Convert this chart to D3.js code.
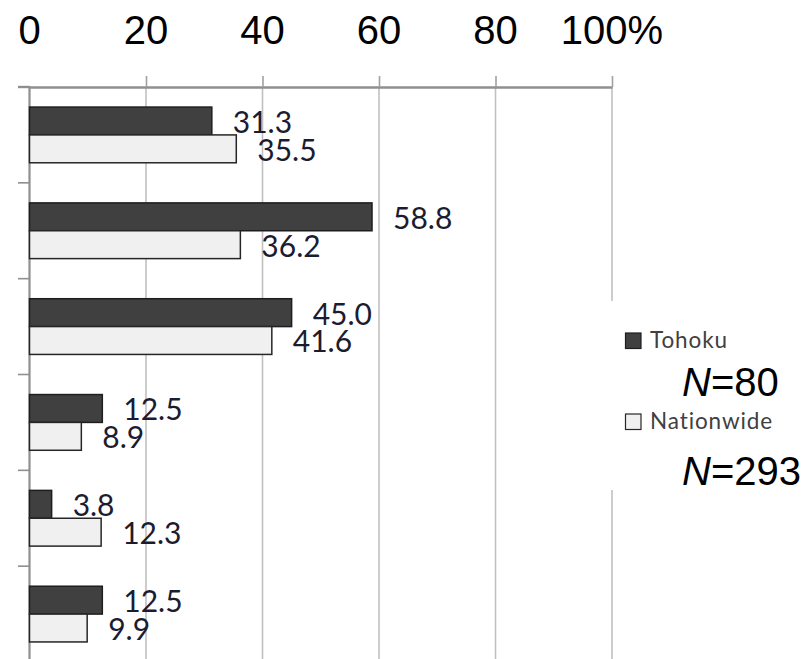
<!DOCTYPE html>
<html>
<head>
<meta charset="utf-8">
<script src="https://cdn.jsdelivr.net/npm/d3@7"></script>
<style>
  html, body { margin: 0; padding: 0; background: #ffffff; }
  svg { display: block; }
</style>
</head>
<body>
<svg id="chart" width="809" height="659"></svg>
<script>
// Response categories (top to bottom) and the two survey groups
const categories = ["Item 1", "Item 2", "Item 3", "Item 4", "Item 5", "Item 6"];
const seriesNames = ["Tohoku", "Nationwide"];
const tohokuValues = [31.3, 58.8, 45.0, 12.5, 3.8, 12.5];
const nationwideValues = [35.5, 36.2, 41.6, 8.9, 12.3, 9.9];
const sampleSizes = [80, 293];
const xTickValues = [0, 20, 40, 60, 80, 100];
const xTickLabels = ["0", "20", "40", "60", "80", "100%"];

const colors = { Tohoku: "#404040", Nationwide: "#f0f0f0" };
const strokes = { Tohoku: "#1e1e1e", Nationwide: "#262626" };

const rows = categories.map((c, i) => ({
  category: c,
  values: [
    { series: "Tohoku", value: tohokuValues[i] },
    { series: "Nationwide", value: nationwideValues[i] }
  ]
}));

const svg = d3.select("#chart");

const x = d3.scaleLinear().domain([0, 100]).range([29.5, 612]);
const y0 = d3.scaleBand().domain(categories).range([87, 662]).padding(0);
const y1 = d3.scaleBand().domain(seriesNames).range([0, y0.bandwidth()])
  .paddingInner(0).paddingOuter(0.72);

// Vertical gridlines
svg.append("g")
  .selectAll("line")
  .data(xTickValues.filter(v => v > 0))
  .join("line")
  .attr("x1", d => x(d)).attr("x2", d => x(d))
  .attr("y1", 87).attr("y2", 659)
  .attr("stroke", "#c0c0c0")
  .attr("stroke-width", 1.6);

// Top value axis with short outward ticks
const xAxis = svg.append("g")
  .attr("transform", "translate(0,87)")
  .call(d3.axisTop(x).tickValues(xTickValues.filter(v => v > 0))
    .tickSize(11).tickSizeOuter(0).tickFormat(""));
xAxis.select(".domain").attr("stroke", "#8f8f8f").attr("stroke-width", 2.4);
xAxis.selectAll(".tick line").attr("stroke", "#a0a0a0").attr("stroke-width", 1.6);

// Category axis: vertical line with ticks at band boundaries
const boundaries = categories.map(c => y0(c));
svg.append("g")
  .selectAll("line")
  .data(boundaries)
  .join("line")
  .attr("x1", 18).attr("x2", x(0))
  .attr("y1", d => d).attr("y2", d => d)
  .attr("stroke", "#8f8f8f")
  .attr("stroke-width", (d, i) => i === 0 ? 2.4 : 1.6);
svg.append("line")
  .attr("x1", x(0)).attr("x2", x(0))
  .attr("y1", 86).attr("y2", 659)
  .attr("stroke", "#8f8f8f")
  .attr("stroke-width", 2.2);

// Top axis labels
svg.append("g")
  .selectAll("text")
  .data(xTickValues)
  .join("text")
  .attr("x", d => x(d))
  .attr("y", 44)
  .attr("text-anchor", "middle")
  .attr("font-family", "'Liberation Sans', Arial, sans-serif")
  .attr("font-size", 40)
  .attr("fill", "#000")
  .text((d, i) => xTickLabels[i]);

// Bars
const groups = svg.append("g")
  .selectAll("g")
  .data(rows)
  .join("g")
  .attr("transform", d => `translate(0,${y0(d.category)})`);

groups.selectAll("rect")
  .data(d => d.values)
  .join("rect")
  .attr("x", x(0))
  .attr("y", d => y1(d.series))
  .attr("width", d => x(d.value) - x(0))
  .attr("height", y1.bandwidth())
  .attr("fill", d => colors[d.series])
  .attr("stroke", d => strokes[d.series])
  .attr("stroke-width", 1.5);

// Value labels beyond the bar ends
groups.selectAll("text")
  .data(d => d.values)
  .join("text")
  .attr("x", d => x(d.value) + 21)
  .attr("y", d => y1(d.series) + y1.bandwidth() - 2)
  .attr("font-family", "Lato, 'Open Sans', sans-serif")
  .attr("font-size", 30)
  .attr("fill", "#1c1c30")
  .text(d => d.value.toFixed(1));

// Legend panel
const legend = svg.append("g");
legend.append("rect")
  .attr("x", 600).attr("y", 301)
  .attr("width", 209).attr("height", 189)
  .attr("fill", "#ffffff");

const legendRows = [
  { series: "Tohoku", keyY: 333, textY: 348, n: sampleSizes[0], nY: 396 },
  { series: "Nationwide", keyY: 414, textY: 429, n: sampleSizes[1], nY: 485 }
];

legendRows.forEach(r => {
  legend.append("rect")
    .attr("x", 625.5).attr("y", r.keyY)
    .attr("width", 15.5).attr("height", 15.5)
    .attr("fill", colors[r.series])
    .attr("stroke", strokes[r.series])
    .attr("stroke-width", 1.2);
  legend.append("text")
    .attr("x", 650).attr("y", r.textY)
    .attr("font-family", "Lato, 'Open Sans', sans-serif")
    .attr("font-size", 22.5)
    .attr("letter-spacing", 0.9)
    .attr("fill", "#404040")
    .text(r.series);
  const t = legend.append("text")
    .attr("x", 682).attr("y", r.nY)
    .attr("font-family", "'Liberation Sans', Arial, sans-serif")
    .attr("font-size", 40)
    .attr("fill", "#000");
  t.append("tspan").attr("font-style", "italic").text("N");
  t.append("tspan").text("=" + r.n);
});
</script>
</body>
</html>
